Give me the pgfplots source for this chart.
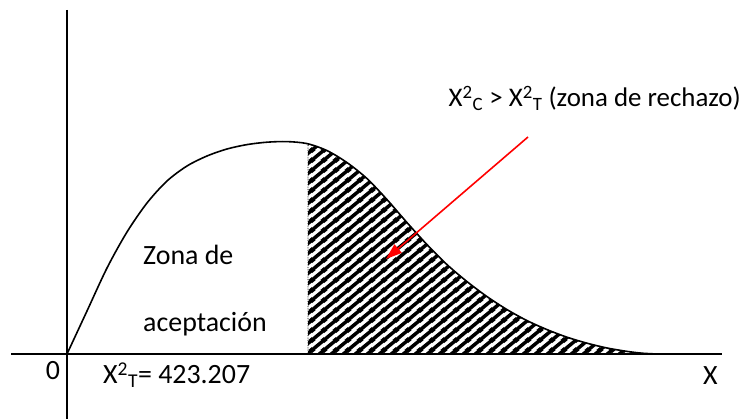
\documentclass[border=0pt]{standalone}
\usepackage{fontspec}
\setmainfont{Carlito}
\usepackage{pgfplots}
\pgfplotsset{compat=1.18}
\usetikzlibrary{patterns,arrows.meta}
\pgfdeclarepatternformonly{bigstripes}{\pgfpointorigin}{\pgfqpoint{12bp}{10bp}}{\pgfqpoint{12bp}{10bp}}{%
  \pgfsetlinewidth{3.8bp}%
  \pgfpathmoveto{\pgfqpoint{-3bp}{-2.5bp}}\pgfpathlineto{\pgfqpoint{15bp}{12.5bp}}%
  \pgfpathmoveto{\pgfqpoint{9bp}{-2.5bp}}\pgfpathlineto{\pgfqpoint{15bp}{2.5bp}}%
  \pgfpathmoveto{\pgfqpoint{-3bp}{7.5bp}}\pgfpathlineto{\pgfqpoint{3bp}{12.5bp}}%
  \pgfusepath{stroke}}
\newcommand{\bigf}{\fontsize{28}{34}\selectfont}
\begin{document}
\begin{tikzpicture}
\begin{axis}[
  scale only axis, width=742bp, height=419bp,
  xmin=-67, xmax=675, ymin=-65, ymax=354,
  hide axis, clip=false,
]
\path (axis cs:-67,-65) rectangle (axis cs:675,354);
% shaded rejection region
\addplot[smooth, draw=black, densely dotted, line width=0.7bp,
  pattern=bigstripes, pattern color=black]
  coordinates {(241,210.2) (260,203.4) (280,191.4) (300,175.4) (320,154.4)
   (340,131.4) (360,109.4) (380,89.4) (400,72.4) (420,57.4) (440,44.4)
   (460,33.4) (480,24.4) (500,16.8) (520,10.8) (540,6) (560,2.6) (575,0.8) (590,0)} \closedcycle;
% density curve
\addplot[smooth, black, line width=1.6bp] coordinates {
 (0,0) (20,43) (40,86) (60,122) (80,151) (100,173) (120,188) (140,198)
 (160,205) (180,209.4) (200,211.8) (220,212.4) (240,210.4) (260,203.4)
 (280,191.4) (300,175.4) (320,154.4) (340,131.4) (360,109.4) (380,89.4)
 (400,72.4) (420,57.4) (440,44.4) (460,33.4) (480,24.4) (500,16.8)
 (520,10.8) (540,6) (560,2.6) (575,0.8) (590,0)};
% axes
\addplot[black, line width=1.6bp] coordinates {(-56,0) (655,0)};
\addplot[black, line width=1.6bp] coordinates {(0,344) (0,-65)};
% arrow
\draw[red, line width=1.6bp, -{Triangle[length=16bp,width=11bp]}] (axis cs:461,217) -- (axis cs:319,95);
% labels
\node[anchor=base west, inner sep=0pt, font=\bigf] at (axis cs:76,89) {Zona de};
\node[anchor=base west, inner sep=0pt, font=\bigf] at (axis cs:76,22) {aceptación};
\node[anchor=base, inner sep=0pt, font=\bigf] at (axis cs:-14,-26) {0};
\node[anchor=base west, inner sep=0pt, font=\bigf] at (axis cs:36,-30) {X\textsuperscript{2}\textsubscript{T}= 423.207};
\node[anchor=base west, inner sep=0pt, font=\bigf] at (axis cs:636,-31) {X};
\node[anchor=base east, inner sep=0pt, font=\fontsize{27}{32}\selectfont] at (axis cs:674,247) {X\textsuperscript{2}\textsubscript{C} > X\textsuperscript{2}\textsubscript{T} (zona de rechazo)};
\end{axis}
\end{tikzpicture}
\end{document}
